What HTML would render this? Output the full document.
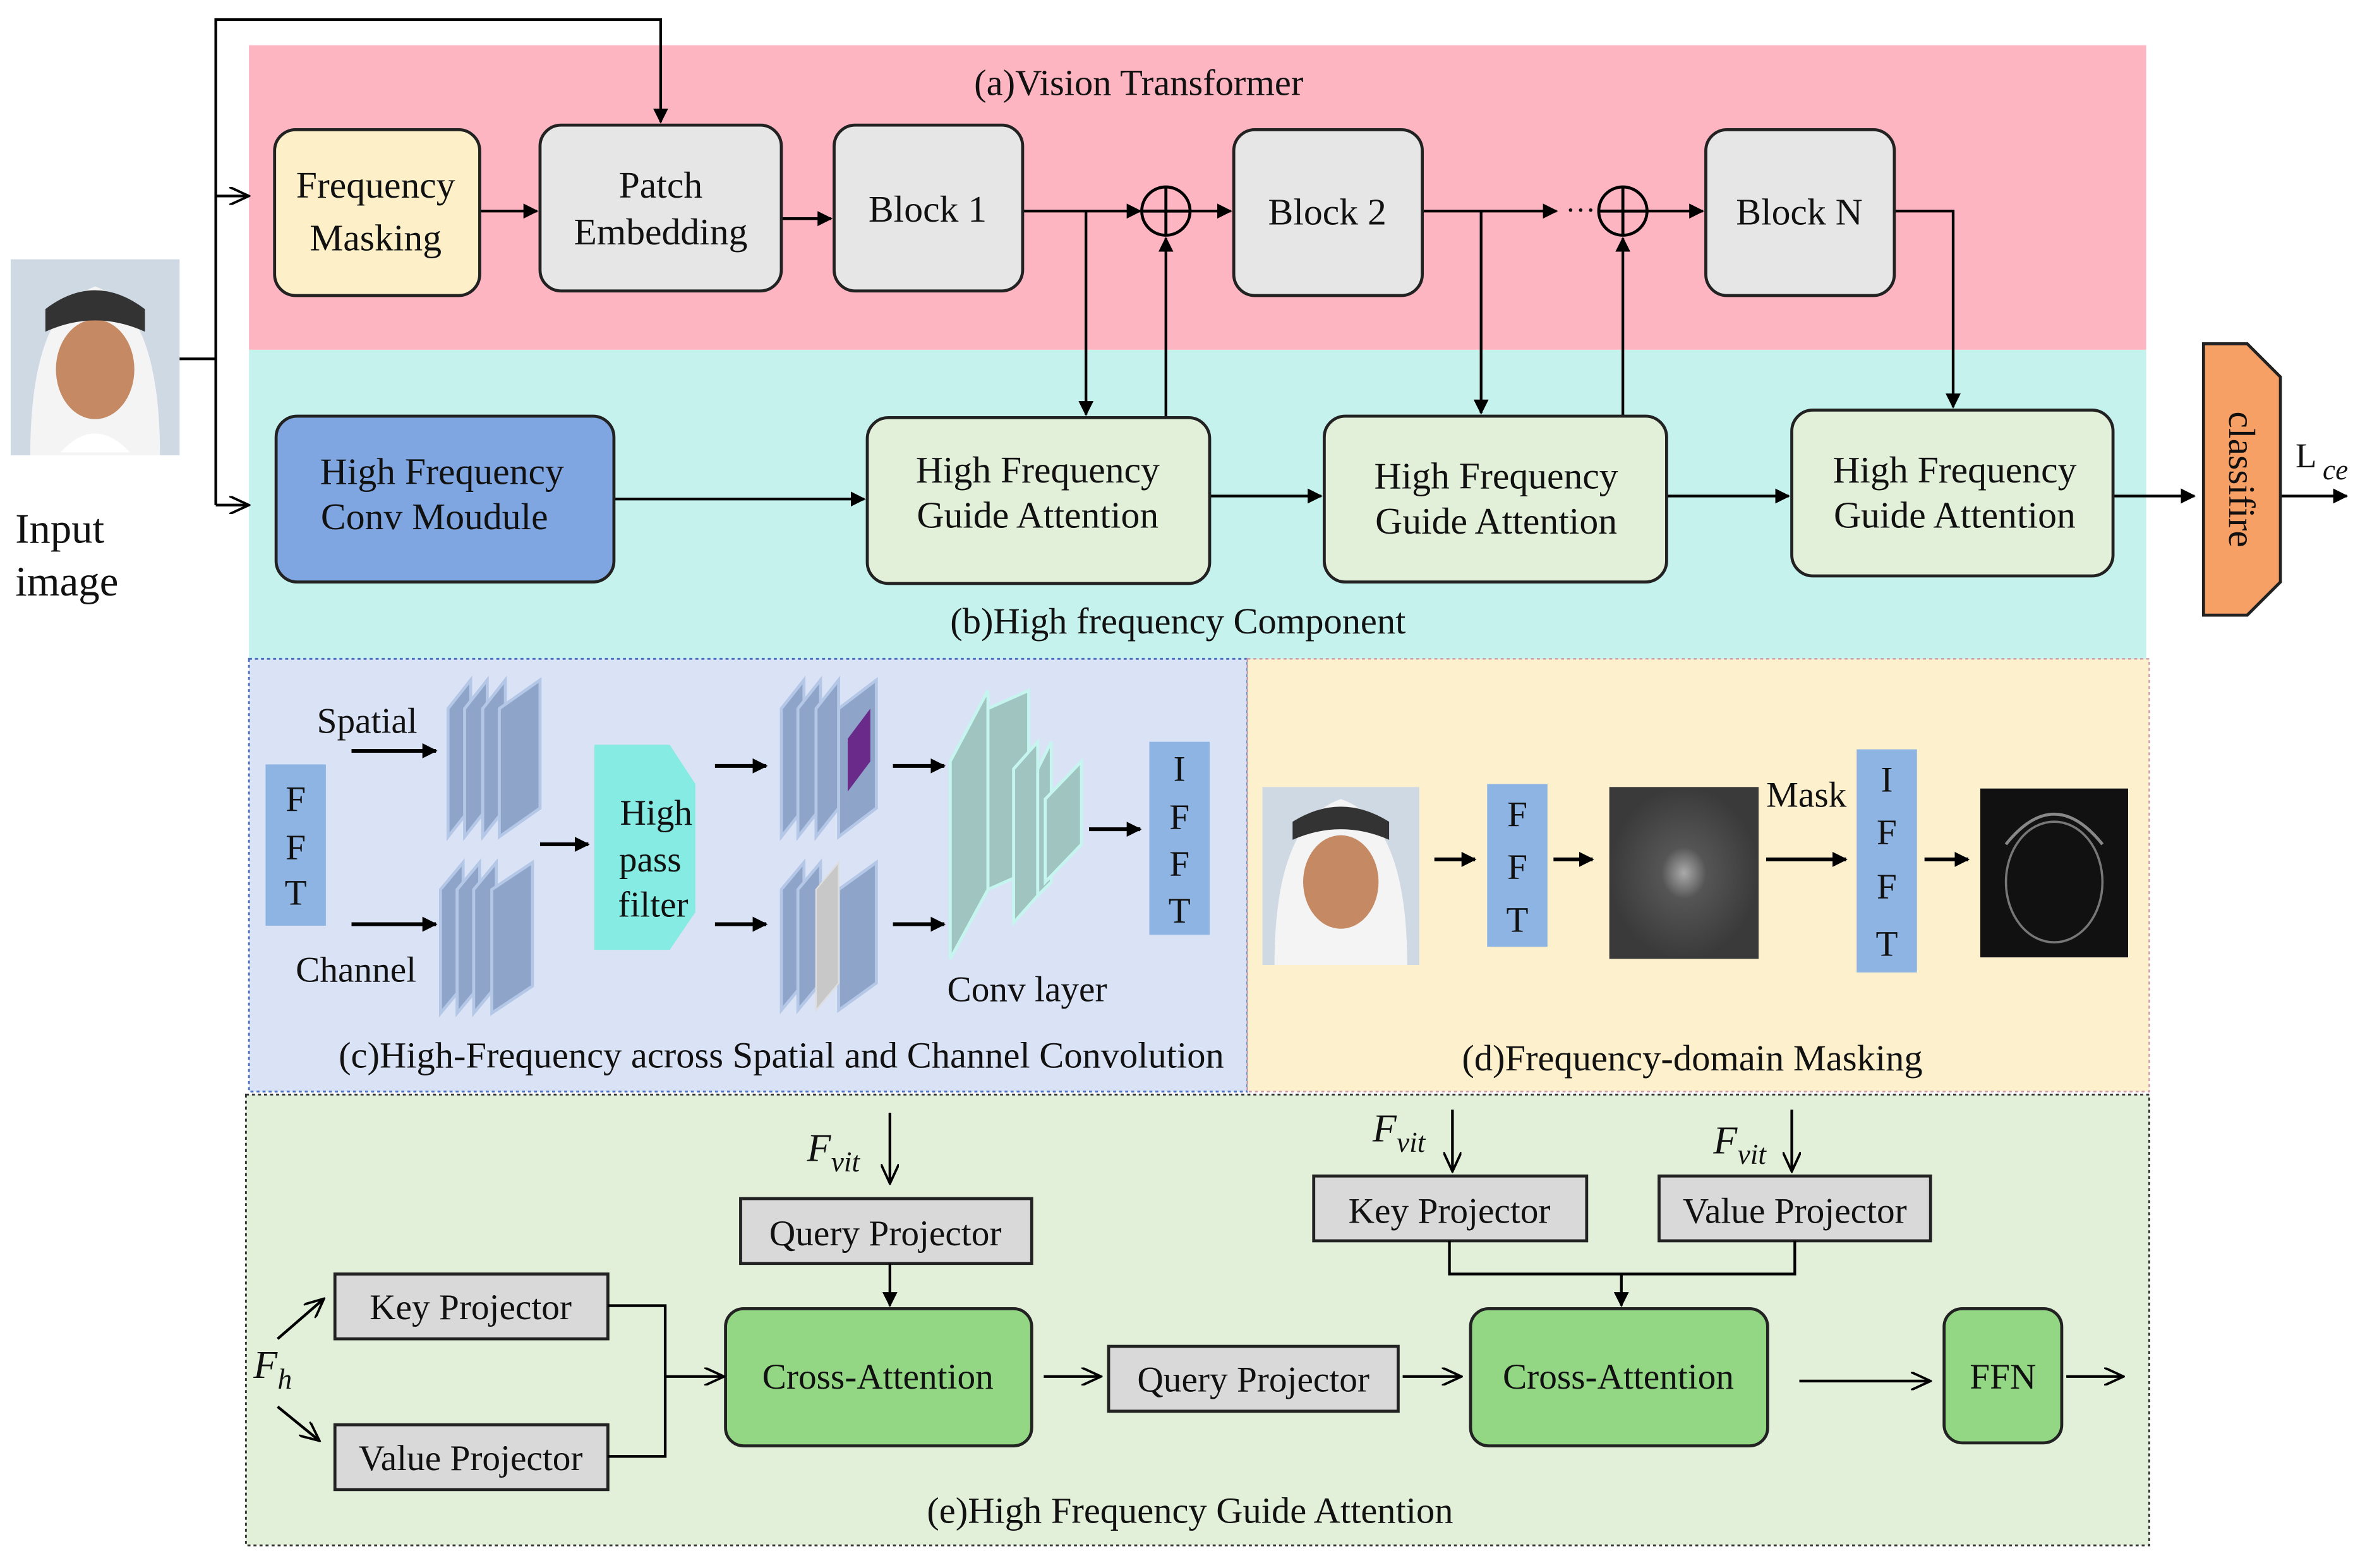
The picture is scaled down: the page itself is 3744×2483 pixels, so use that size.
<!DOCTYPE html>
<html><head><meta charset="utf-8"><style>
html,body{margin:0;padding:0;background:#fff;}
svg{display:block;}
text{font-family:"Liberation Serif",serif;fill:#111;}
</style></head><body>
<svg width="3744" height="2483" viewBox="0 0 1568 1040" xmlns="http://www.w3.org/2000/svg">
<defs>
<marker id="a" markerWidth="10" markerHeight="10" refX="9" refY="5" orient="auto" markerUnits="userSpaceOnUse"><path d="M0,0 L10,5 L0,10 z" fill="#000"/></marker>
<marker id="o" markerWidth="14" markerHeight="12" refX="12" refY="6" orient="auto" markerUnits="userSpaceOnUse"><path d="M0,0 L13,6 L0,12" fill="none" stroke="#000" stroke-width="1.6"/></marker>
</defs>
<rect x="165" y="30" width="1258" height="202" fill="#fdb6c1"/>
<rect x="165" y="232" width="1258" height="205" fill="#c6f2ee"/>
<rect x="165" y="437" width="662" height="287" fill="#dae3f5" stroke="#4a6fc0" stroke-width="1.2" stroke-dasharray="2,2"/>
<rect x="827" y="437" width="598" height="287" fill="#fdf0cc" stroke="#c9a" stroke-width="1" stroke-dasharray="2,2"/>
<rect x="163" y="726" width="1262" height="299" fill="#e2f0d9" stroke="#333" stroke-width="1.2" stroke-dasharray="2,2"/>

<g font-size="24.5">
<text x="755" y="63" text-anchor="middle">(a)Vision Transformer</text>
<text x="781" y="420" text-anchor="middle">(b)High frequency Component</text>
<text x="518" y="708" text-anchor="middle">(c)High-Frequency across Spatial and Channel Convolution</text>
<text x="1122" y="710" text-anchor="middle">(d)Frequency-domain Masking</text>
<text x="789" y="1010" text-anchor="middle">(e)High Frequency  Guide Attention</text>
</g>

<rect x="7" y="172" width="112" height="130" fill="#cfd9e4"/>
<path d="M20,302 Q20,205 63,190 Q106,205 106,302 z" fill="#f4f4f4"/>
<ellipse cx="63" cy="245" rx="26" ry="33" fill="#c58a64"/>
<path d="M30,205 Q63,180 96,205 L96,220 Q63,205 30,220 z" fill="#333"/>
<path d="M40,300 Q63,275 86,300 z" fill="#fff"/>
<text x="10" y="360" font-size="28">Input</text>
<text x="10" y="395" font-size="28">image</text>

<g stroke="#000" stroke-width="1.8" fill="none">
<polyline points="119,238 143,238"/>
<polyline points="143,335 143,13 438,13 438,81" marker-end="url(#a)"/>
<line x1="143" y1="130" x2="164" y2="130" marker-end="url(#o)"/>
<line x1="143" y1="335" x2="164" y2="335" marker-end="url(#o)"/>
<line x1="318" y1="140" x2="356" y2="140" marker-end="url(#a)"/>
<line x1="518" y1="145" x2="551" y2="145" marker-end="url(#a)"/>
<line x1="678" y1="140" x2="756" y2="140" marker-end="url(#a)"/>
<line x1="789" y1="140" x2="816" y2="140" marker-end="url(#a)"/>
<line x1="943" y1="140" x2="1032" y2="140" marker-end="url(#a)"/>
<line x1="1092" y1="140" x2="1129" y2="140" marker-end="url(#a)"/>
<line x1="720" y1="140" x2="720" y2="275" marker-end="url(#a)"/>
<line x1="773" y1="277" x2="773" y2="158" marker-end="url(#a)"/>
<line x1="982" y1="140" x2="982" y2="274" marker-end="url(#a)"/>
<line x1="1076" y1="276" x2="1076" y2="158" marker-end="url(#a)"/>
<polyline points="1256,140 1295,140 1295,270" marker-end="url(#a)"/>
<line x1="407" y1="331" x2="573" y2="331" marker-end="url(#a)"/>
<line x1="802" y1="329" x2="876" y2="329" marker-end="url(#a)"/>
<line x1="1105" y1="329" x2="1186" y2="329" marker-end="url(#a)"/>
<line x1="1401" y1="329" x2="1455" y2="329" marker-end="url(#a)"/>
<line x1="1512" y1="329" x2="1556" y2="329" marker-end="url(#a)"/>
</g>
<text x="1038" y="146" font-size="20">···</text>
<g stroke="#000" stroke-width="2" fill="none">
<circle cx="773" cy="140" r="16"/><line x1="757" y1="140" x2="789" y2="140"/><line x1="773" y1="124" x2="773" y2="156"/>
<circle cx="1076" cy="140" r="16"/><line x1="1060" y1="140" x2="1092" y2="140"/><line x1="1076" y1="124" x2="1076" y2="156"/>
</g>

<g stroke="#222" stroke-width="2">
<rect x="182" y="86" width="136" height="110" rx="14" fill="#fdf0c8"/>
<rect x="358" y="83" width="160" height="110" rx="14" fill="#e6e6e6"/>
<rect x="553" y="83" width="125" height="110" rx="14" fill="#e6e6e6"/>
<rect x="818" y="86" width="125" height="110" rx="14" fill="#e6e6e6"/>
<rect x="1131" y="86" width="125" height="110" rx="14" fill="#e6e6e6"/>
<rect x="183" y="276" width="224" height="110" rx="14" fill="#7fa6e0"/>
<rect x="575" y="277" width="227" height="110" rx="14" fill="#e2f0d9"/>
<rect x="878" y="276" width="227" height="110" rx="14" fill="#e2f0d9"/>
<rect x="1188" y="272" width="213" height="110" rx="14" fill="#e2f0d9"/>
<path d="M1461,228 L1490,228 L1512,250 L1512,386 L1490,408 L1461,408 z" fill="#f7a066"/>
</g>
<g font-size="25" text-anchor="middle">
<text x="249" y="131">Frequency</text><text x="249" y="166">Masking</text>
<text x="438" y="131">Patch</text><text x="438" y="162">Embedding</text>
<text x="615" y="147">Block 1</text>
<text x="880" y="149">Block 2</text>
<text x="1193" y="149">Block N</text>
<text x="293" y="321">High Frequency</text><text x="288" y="351">Conv Moudule</text>
<text x="688" y="320">High Frequency</text><text x="688" y="350">Guide Attention</text>
<text x="992" y="324">High Frequency</text><text x="992" y="354">Guide Attention</text>
<text x="1296" y="320">High Frequency</text><text x="1296" y="350">Guide Attention</text>
</g>
<text x="0" y="0" font-size="25" text-anchor="middle" transform="translate(1478,318) rotate(90)">classifire</text>
<text x="1522" y="310" font-size="23">L</text><text x="1540" y="318" font-size="19" font-style="italic">ce</text>

<!-- (c) -->
<rect x="176" y="507" width="40" height="107" fill="#8eb4e3"/>
<g font-size="24" text-anchor="middle"><text x="196" y="538">F</text><text x="196" y="570">F</text><text x="196" y="600">T</text></g>
<rect x="762" y="492" width="40" height="128" fill="#8eb4e3"/>
<g font-size="24" text-anchor="middle"><text x="782" y="518">I</text><text x="782" y="550">F</text><text x="782" y="581">F</text><text x="782" y="612">T</text></g>
<text x="210" y="486" font-size="24">Spatial</text>
<text x="196" y="651" font-size="24">Channel</text>
<text x="628" y="664" font-size="24">Conv layer</text>
<path d="M394,494 L444,494 L461,520 L461,605 L444,630 L394,630 z" fill="#86ebe3"/>
<g font-size="24" text-anchor="middle"><text x="435" y="547">High</text><text x="431" y="578">pass</text><text x="433" y="608">filter</text></g>
<g fill="#8ea4c8" stroke="#b4c7e7" stroke-width="2">
<path d="M297,555 L297,470 L312,451 L312,536 z"/><path d="M308,555 L308,470 L323,451 L323,536 z"/><path d="M320,555 L320,470 L335,451 L335,536 z"/><path d="M331,555 L331,470 L358,451 L358,536 z"/>
<path d="M292,672 L292,590 L307,572 L307,654 z"/><path d="M303,672 L303,590 L318,572 L318,654 z"/><path d="M314,672 L314,590 L329,572 L329,654 z"/><path d="M326,672 L326,590 L353,572 L353,654 z"/>
<path d="M518,555 L518,470 L533,451 L533,536 z"/><path d="M529,555 L529,470 L544,451 L544,536 z"/><path d="M541,555 L541,470 L556,451 L556,536 z"/><path d="M556,555 L556,470 L581,451 L581,536 z"/>
<path d="M518,670 L518,590 L533,572 L533,652 z"/><path d="M529,670 L529,590 L544,572 L544,652 z"/><path d="M556,670 L556,590 L581,572 L581,652 z"/>
</g>
<path d="M541,670 L541,590 L556,572 L556,652 z" fill="#c8c8c8" stroke="#ddd"/>
<path d="M562,525 L562,490 L577,470 L577,505 z" fill="#6a2a8a"/>
<g fill="#a0c4c0" stroke="#c6f5ef" stroke-width="2">
<path d="M630,636 L630,505 L655,458 L655,590 z"/><path d="M655,590 L655,470 L682,458 L682,578 z"/>
<path d="M672,612 L672,510 L688,492 L688,594 z"/><path d="M688,594 L688,510 L697,492 L697,585 z"/>
<path d="M693,585 L693,530 L717,505 L717,560 z"/>
</g>
<g stroke="#000" stroke-width="2.5" fill="none">
<line x1="233" y1="498" x2="289" y2="498" marker-end="url(#a)"/>
<line x1="233" y1="613" x2="289" y2="613" marker-end="url(#a)"/>
<line x1="358" y1="560" x2="390" y2="560" marker-end="url(#a)"/>
<line x1="474" y1="508" x2="508" y2="508" marker-end="url(#a)"/>
<line x1="474" y1="613" x2="508" y2="613" marker-end="url(#a)"/>
<line x1="592" y1="508" x2="626" y2="508" marker-end="url(#a)"/>
<line x1="592" y1="613" x2="626" y2="613" marker-end="url(#a)"/>
<line x1="722" y1="550" x2="756" y2="550" marker-end="url(#a)"/>
</g>

<!-- (d) -->
<rect x="837" y="522" width="104" height="118" fill="#cfd9e4"/>
<path d="M845,640 Q845,545 889,530 Q933,545 933,640 z" fill="#f4f4f4"/>
<ellipse cx="889" cy="585" rx="25" ry="31" fill="#c58a64"/>
<path d="M857,545 Q889,525 921,545 L921,557 Q889,543 857,557 z" fill="#333"/>
<rect x="986" y="520" width="40" height="108" fill="#8eb4e3"/>
<g font-size="24" text-anchor="middle"><text x="1006" y="548">F</text><text x="1006" y="583">F</text><text x="1006" y="618">T</text></g>
<rect x="1231" y="497" width="40" height="148" fill="#8eb4e3"/>
<g font-size="24" text-anchor="middle"><text x="1251" y="525">I</text><text x="1251" y="560">F</text><text x="1251" y="596">F</text><text x="1251" y="634">T</text></g>
<defs><radialGradient id="g"><stop offset="0" stop-color="#aaa"/><stop offset="0.3" stop-color="#555"/><stop offset="1" stop-color="#3a3a3a"/></radialGradient></defs>
<rect x="1067" y="522" width="99" height="114" fill="url(#g)"/>
<rect x="1313" y="523" width="98" height="112" fill="#111"/>
<ellipse cx="1362" cy="585" rx="32" ry="40" fill="none" stroke="#777" stroke-width="1.5"/>
<path d="M1330,560 Q1362,520 1394,560" fill="none" stroke="#888" stroke-width="2"/>
<text x="1171" y="535" font-size="24">Mask</text>
<g stroke="#000" stroke-width="2.5" fill="none">
<line x1="951" y1="570" x2="978" y2="570" marker-end="url(#a)"/>
<line x1="1030" y1="570" x2="1056" y2="570" marker-end="url(#a)"/>
<line x1="1171" y1="570" x2="1224" y2="570" marker-end="url(#a)"/>
<line x1="1276" y1="570" x2="1305" y2="570" marker-end="url(#a)"/>
</g>

<!-- (e) -->
<g stroke="#222" stroke-width="2">
<rect x="491" y="795" width="193" height="43" fill="#d9d9d9"/>
<rect x="871" y="780" width="181" height="43" fill="#d9d9d9"/>
<rect x="1100" y="780" width="180" height="43" fill="#d9d9d9"/>
<rect x="222" y="845" width="181" height="43" fill="#d9d9d9"/>
<rect x="222" y="945" width="181" height="43" fill="#d9d9d9"/>
<rect x="735" y="893" width="192" height="43" fill="#d9d9d9"/>
<rect x="481" y="868" width="203" height="91" rx="12" fill="#93d785"/>
<rect x="975" y="868" width="197" height="91" rx="12" fill="#93d785"/>
<rect x="1289" y="868" width="78" height="89" rx="12" fill="#93d785"/>
</g>
<g font-size="24" text-anchor="middle">
<text x="587" y="826">Query Projector</text>
<text x="961" y="811">Key Projector</text>
<text x="1190" y="811">Value Projector</text>
<text x="312" y="875">Key Projector</text>
<text x="312" y="975">Value Projector</text>
<text x="831" y="923">Query Projector</text>
<text x="582" y="921">Cross-Attention</text>
<text x="1073" y="921">Cross-Attention</text>
<text x="1328" y="921">FFN</text>
</g>
<g font-size="26" font-style="italic">
<text x="535" y="770">F</text><text x="551" y="777" font-size="19">vit</text>
<text x="910" y="757">F</text><text x="926" y="764" font-size="19">vit</text>
<text x="1136" y="765">F</text><text x="1152" y="772" font-size="19">vit</text>
<text x="168" y="914">F</text><text x="184" y="921" font-size="19">h</text>
</g>
<g stroke="#000" stroke-width="1.8" fill="none">
<line x1="590" y1="738" x2="590" y2="784" marker-end="url(#o)"/>
<line x1="963" y1="736" x2="963" y2="776" marker-end="url(#o)"/>
<line x1="1188" y1="736" x2="1188" y2="776" marker-end="url(#o)"/>
<line x1="590" y1="838" x2="590" y2="866" marker-end="url(#a)"/>
<polyline points="961,823 961,845 1190,845 1190,823"/>
<line x1="1075" y1="845" x2="1075" y2="866" marker-end="url(#a)"/>
<polyline points="403,866 441,866 441,966 403,966"/>
<line x1="441" y1="913" x2="479" y2="913" marker-end="url(#o)"/>
<line x1="184" y1="888" x2="214" y2="862" marker-end="url(#o)"/>
<line x1="184" y1="933" x2="211" y2="955" marker-end="url(#o)"/>
<line x1="692" y1="913" x2="729" y2="913" marker-end="url(#o)"/>
<line x1="930" y1="913" x2="968" y2="913" marker-end="url(#o)"/>
<line x1="1193" y1="916" x2="1279" y2="916" marker-end="url(#o)"/>
<line x1="1370" y1="913" x2="1407" y2="913" marker-end="url(#o)"/>
</g>
</svg>
</body></html>
